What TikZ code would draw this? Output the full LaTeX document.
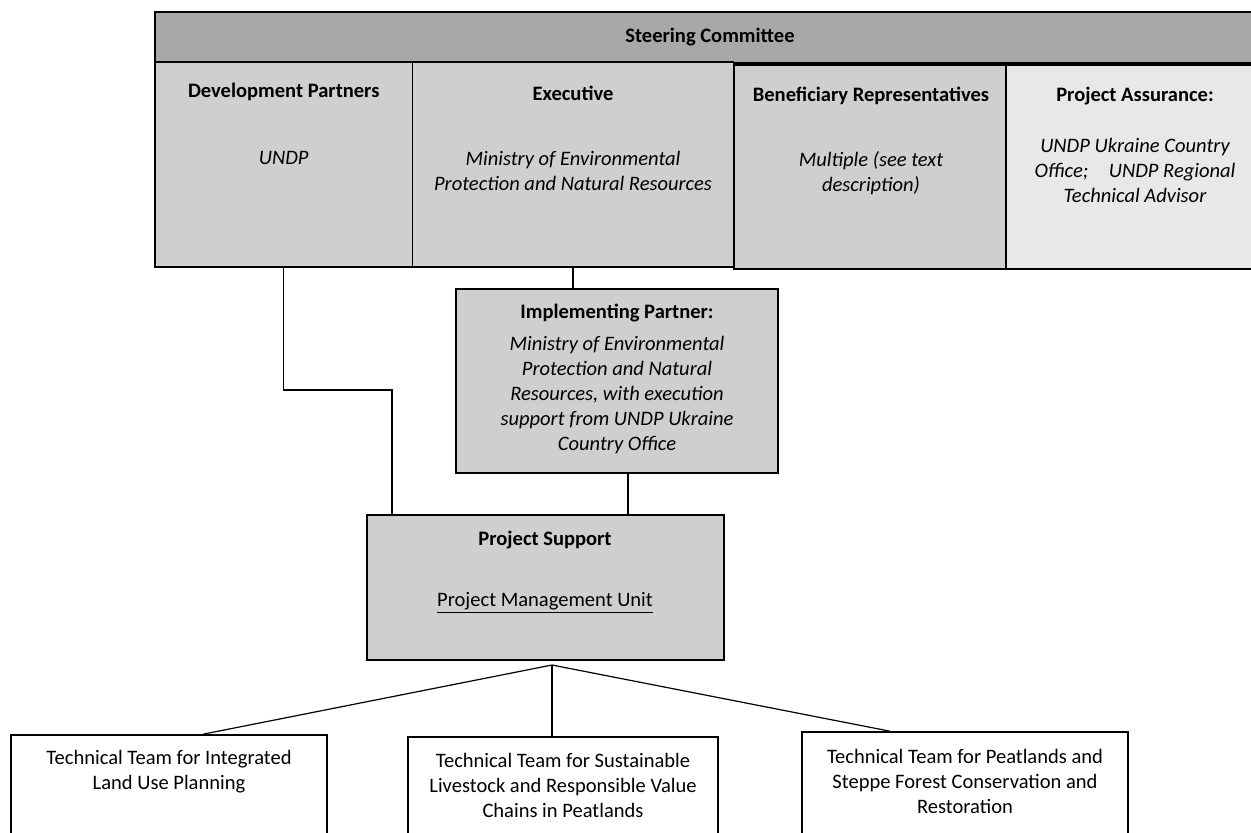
\documentclass[tikz,border=0pt]{standalone}
\usepackage{fontspec}
\setmainfont{Carlito}
\usetikzlibrary{positioning}

\definecolor{bargray}{HTML}{A8A8A8}
\definecolor{panelgray}{HTML}{CFCFCF}
\definecolor{lightgray}{HTML}{E8E8E8}

\tikzset{
	panel/.style={draw, line width=1.4pt, fill=panelgray, inner sep=0pt},
	team/.style={draw, line width=1.2pt, fill=white, inner sep=0pt},
	head/.style={font=\fontsize{15.4}{18.75}\selectfont\bfseries, inner sep=0pt},
	body/.style={font=\fontsize{15.4}{18.75}\selectfont\itshape, align=center, inner sep=0pt},
	plain/.style={font=\fontsize{15.4}{18.75}\selectfont, align=center, inner sep=0pt},
	link/.style={line width=0.9pt}
}

\begin{document}
\begin{tikzpicture}[x=0.75pt,y=-0.75pt]
	\useasboundingbox (0,0) rectangle (1251,832);
	% steering committee
	\node [panel, fill=bargray, minimum width=1100*0.75pt, minimum height=51*0.75pt] (sc) at (705,37.5) {};
	\node [head] (scT) at (710,37) {Steering Committee};
	% board members
	\node [panel, minimum width=257.5*0.75pt, minimum height=205*0.75pt] (dev) at (283.75,164.5) {};
	\node [panel, minimum width=321*0.75pt, minimum height=205*0.75pt] (exe) at (573,164.5) {};
	\node [panel, minimum width=272*0.75pt, minimum height=204*0.75pt] (ben) at (870,167) {};
	\node [panel, fill=lightgray, minimum width=259*0.75pt, minimum height=204*0.75pt] (asr) at (1135.5,167) {};
	\node [head] (devT) at (283.75,92) {Development Partners};
	\node [body] (devB) at (283.75,158) {UNDP};
	\node [head] (exeT) at (573,93) {Executive};
	\node [body] (exeB) at (573,170.5) {Ministry of Environmental\\Protection and Natural Resources};
	\node [head] (benT) at (871,96) {Beneficiary Representatives};
	\node [body] (benB) at (871,173) {Multiple (see text\\description)};
	\node [head] (asrT) at (1135,96) {Project Assurance:};
	\node [body] (asrB) at (1135,170.5) {UNDP Ukraine Country\\Office;\quad UNDP Regional\\Technical Advisor};
	% implementing partner
	\node [panel, minimum width=322*0.75pt, minimum height=184*0.75pt] (ip) at (617,381) {};
	\node [head] (ipT) at (617,313) {Implementing Partner:};
	\node [body] (ipB) at (617,395) {Ministry of Environmental\\Protection and Natural\\Resources, with execution\\support from UNDP Ukraine\\Country Office};
	% project support
	\node [panel, minimum width=357*0.75pt, minimum height=145*0.75pt] (ps) at (545.5,587.5) {};
	\node [head] (psT) at (545,540) {Project Support};
	\node [plain] (psB) at (545,603) {\underline{Project Management Unit}};
	% technical teams
	\node [team, minimum width=316*0.75pt, minimum height=120*0.75pt] (tmL) at (169,795) {};
	\node [team, minimum width=310*0.75pt, minimum height=120*0.75pt] (tmM) at (563,797) {};
	\node [team, minimum width=326*0.75pt, minimum height=126*0.75pt] (tmR) at (965,795) {};
	\node [plain] (tmLT) at (169,771.5) {Technical Team for Integrated\\Land Use Planning};
	\node [plain] (tmMT) at (563,785) {Technical Team for Sustainable\\Livestock and Responsible Value\\Chains in Peatlands};
	\node [plain] (tmRT) at (965,781) {Technical Team for Peatlands and\\Steppe Forest Conservation and\\Restoration};
	% connectors
	\coordinate (apex) at (552,665);
	\draw [link] (exe.south) -- (ip.north -| exe.south);
	\draw [link] (ip.south -| 628,0) -- (ps.north -| 628,0);
	\draw [link] (dev.south) |- (392,390) -- (ps.north -| 392,0);
	\draw [link] (apex) -- (tmL.north -| 203,0);
	\draw [link] (apex) -- (tmM.north -| 552,0);
	\draw [link] (apex) -- (tmR.north -| 890,0);
\end{tikzpicture}
\end{document}
